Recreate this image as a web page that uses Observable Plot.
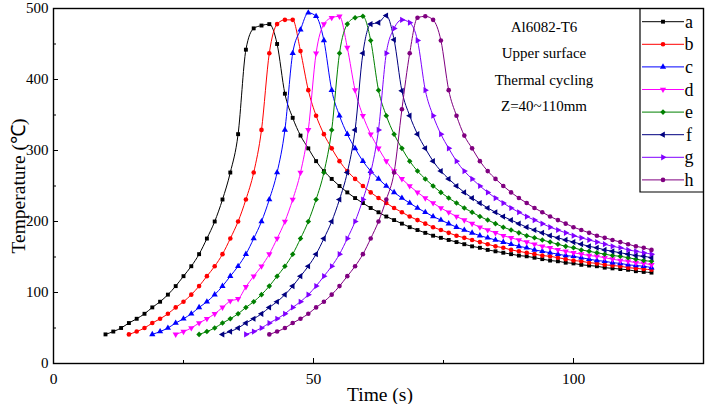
<!DOCTYPE html>
<html><head><meta charset="utf-8">
<script src="https://cdn.jsdelivr.net/npm/d3@7"></script>
<script src="https://cdn.jsdelivr.net/npm/@observablehq/plot@0.6"></script>
<style>body{margin:0;background:#fff} svg text{font-family:"Liberation Serif",serif !important}</style>
</head><body><div id="chart"></div>
<script>
const seriesNames = ["a","b","c","d","e","f","g","h"];
const seriesColors = ["#000000","#ff0000","#0000ff","#ff00ff","#008000","#000080","#8000ff","#800080"];
const seriesSymbols = ["square","circle","triangle","triangle","diamond2","triangle","triangle","circle"];
const seriesRotate = [0,0,0,180,0,-90,90,0];
const startTimes = [10,14.5,19,23.5,28,32.5,37,41.5];
const timeStep = 1.5;

const tempA = [41,45,50,57,63,70,79,87,97,109,123,137,154,176,200,231,269,323,442,472,476,478,450,380,346,321,303,285,271,260,250,241,233,226,219,213,207,202,197,192,188,184,180,177,174,171,168,165,163,160,158,156,154,152,151,149,147,145,144,142,141,139,138,137,135,134,133,132,130,129,128];
const tempB = [41,45,50,57,63,70,79,87,97,109,123,137,154,176,200,231,269,329,437,478,484,484,440,385,349,323,303,285,271,260,250,241,233,226,219,213,207,202,197,192,188,184,180,177,174,171,168,165,163,160,158,156,154,152,151,149,147,145,144,142,141,139,138,137,135,134,133,132];
const tempC = [41,45,50,57,63,70,79,87,97,109,123,137,154,176,200,231,269,329,437,470,494,489,455,385,349,323,303,285,271,260,250,241,233,226,219,213,207,202,197,192,188,184,180,177,174,171,168,165,163,160,158,156,154,152,151,149,147,145,144,142,141,139,138,137,135];
const tempD = [41,45,50,57,63,70,79,88,91,108,123,137,154,176,200,231,269,329,437,478,487,489,445,385,349,323,303,285,271,260,250,241,233,226,219,213,207,202,197,192,188,184,180,177,174,171,168,165,163,160,158,156,154,152,151,149,147,145,144,142,141,139];
const tempE = [41,45,50,57,63,70,79,87,97,109,123,137,154,176,200,231,269,329,437,478,487,489,455,385,349,323,303,285,271,260,250,241,233,226,219,213,207,202,197,192,188,184,180,177,174,171,168,165,163,160,158,156,154,152,151,149,147,145,144];
const tempF = [41,45,50,57,63,70,79,87,97,109,123,137,154,176,200,231,269,329,437,478,480,490,456,384,349,323,303,285,271,260,250,241,233,226,219,213,207,202,197,192,188,184,180,177,174,171,168,165,163,160,158,156,154,152,151,149];
const tempG = [41,45,50,57,63,70,79,87,97,109,123,137,154,176,200,231,269,329,437,472,484,480,455,385,349,323,303,285,271,260,250,241,233,226,219,213,207,202,197,192,188,184,180,177,174,171,168,165,163,160,158,156,154];
const tempH = [41,45,50,57,63,70,79,87,97,109,123,137,154,176,200,231,269,358,437,487,489,484,455,385,349,321,303,285,271,260,250,241,233,226,219,213,207,202,197,192,188,184,180,177,174,171,168,165,163,160];
const seriesTemps = [tempA,tempB,tempC,tempD,tempE,tempF,tempG,tempH];

const xMajorTicks = [0,50,100];
const xMinorTicks = [25,75];
const yMajorTicks = [0,100,200,300,400,500];
const yMinorTicks = [50,150,250,350,450];
const annotationLines = ["Al6082-T6","Upper surface","Thermal cycling","Z=40~110mm"];

const rows = seriesNames.map((s,k) => seriesTemps[k].map((v,i) => ({series:s, t:startTimes[k] + i*timeStep, temp:v})));

const serif = "Liberation Serif";
const symR = {square:2.2, circle:2.3, triangle:2.3, diamond2:2.5};
const marks = [];
rows.forEach((data,k) => {
  marks.push(Plot.line(data, {x:"t", y:"temp", stroke:seriesColors[k], strokeWidth:1, curve:"monotone-x"}));
  marks.push(Plot.dot(data, {x:"t", y:"temp", fill:seriesColors[k], symbol:seriesSymbols[k], rotate:seriesRotate[k], r:symR[seriesSymbols[k]]}));
});

const chart = Plot.plot({
  width:706, height:404,
  marginLeft:53, marginRight:3, marginTop:8, marginBottom:41,
  style:{fontFamily:serif, fontSize:"15px", background:"#fff", color:"#000"},
  x:{domain:[0,125]},
  y:{domain:[0,500]},
  marks:[
    Plot.axisX(xMajorTicks, {tickSize:0, tickPadding:9, label:null, fontSize:15.5, fontFamily:serif}),
    Plot.axisX(xMajorTicks, {tickSize:-5, tickFormat:()=>"", label:null}),
    Plot.axisX(xMinorTicks, {tickSize:-3, tickFormat:()=>"", label:null}),
    Plot.axisY(yMajorTicks, {tickSize:0, tickPadding:5, label:null, fontSize:15, fontFamily:serif}),
    Plot.axisY(yMajorTicks, {tickSize:-5, tickFormat:()=>"", label:null}),
    Plot.axisY(yMinorTicks, {tickSize:-3, tickFormat:()=>"", label:null}),
    ...marks,
    Plot.frame({stroke:"#000", strokeWidth:1.4})
  ]
});
document.getElementById("chart").appendChild(chart);

const svg = d3.select(chart);
// axis titles
svg.append("text").attr("x",380).attr("y",394).attr("text-anchor","middle").attr("dominant-baseline","central")
  .attr("font-family",serif).attr("font-size",19.5).text("Time (s)");
svg.append("text").attr("transform","translate(18,186) rotate(-90)").attr("text-anchor","middle").attr("dominant-baseline","central")
  .attr("font-family",serif).attr("font-size",19.5).text("Temperature (℃)");
// annotation
annotationLines.forEach((s,i) => {
  svg.append("text").attr("x",544).attr("y",27 + i*26.3).attr("text-anchor","middle").attr("dominant-baseline","central")
    .attr("font-family",serif).attr("font-size",15).text(s);
});
// legend
const lg = svg.append("g");
lg.append("path").attr("d","M640,8V192H703").attr("fill","none").attr("stroke","#000").attr("stroke-width",1.2);
const symMap = {square:d3.symbolSquare, circle:d3.symbolCircle, triangle:d3.symbolTriangle, diamond2:d3.symbolDiamond2};
seriesNames.forEach((s,k) => {
  const y = 21.7 + k*22.6;
  lg.append("line").attr("x1",642).attr("x2",684).attr("y1",y).attr("y2",y).attr("stroke",seriesColors[k]).attr("stroke-width",1);
  const r = symR[seriesSymbols[k]];
  lg.append("path").attr("d", d3.symbol(symMap[seriesSymbols[k]], Math.PI*r*r)())
    .attr("transform",`translate(663,${y}) rotate(${seriesRotate[k]})`).attr("fill",seriesColors[k]);
  lg.append("text").attr("x",689).attr("y",y).attr("dominant-baseline","central").attr("font-family",serif).attr("font-size",18).text(s);
});
</script>
</body></html>
